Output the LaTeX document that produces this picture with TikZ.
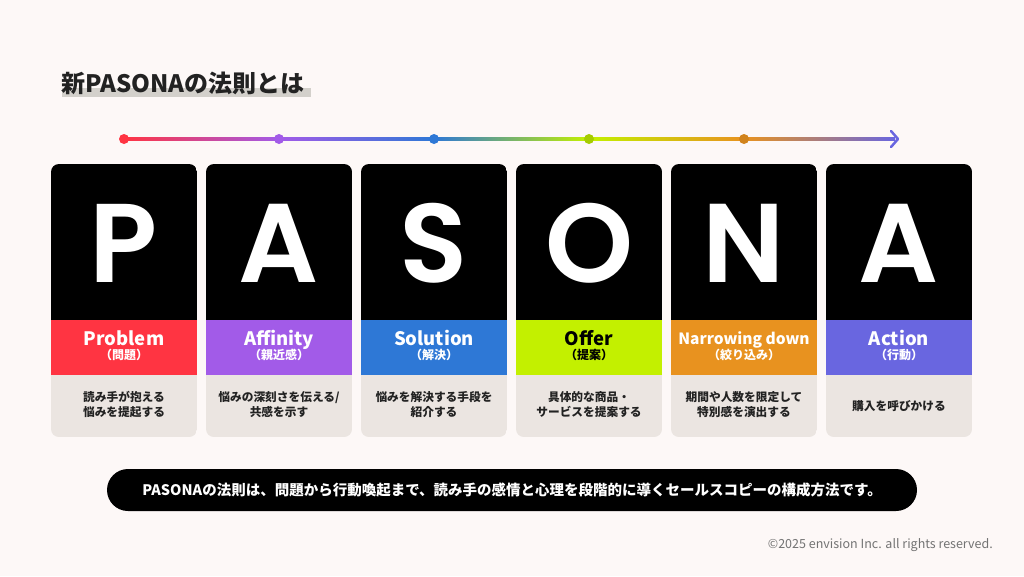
\documentclass[tikz,border=0pt]{standalone}
\usepackage{fontspec}
\setmainfont{Noto Sans CJK JP}
\newfontfamily\popfont{Poppins}[UprightFont=* SemiBold,BoldFont=* SemiBold]
\usetikzlibrary{arrows.meta}
\definecolor{bgc}{HTML}{FDF8F7}
\definecolor{cred}{HTML}{FF3442}
\definecolor{cpur}{HTML}{A25BE8}
\definecolor{cblu}{HTML}{2E78D6}
\definecolor{clim}{HTML}{C3F000}
\definecolor{cora}{HTML}{E8921F}
\definecolor{cind}{HTML}{6966E0}
\definecolor{cgray}{HTML}{EBE5E1}
\definecolor{hl}{HTML}{D3D0CB}
\definecolor{txt}{HTML}{222222}
\tikzset{
  bigletter/.style={text=white,font=\popfont\fontsize{112}{112}\selectfont,anchor=base,inner sep=0pt},
  lab/.style={font=\bfseries\fontsize{18.5}{18}\selectfont,anchor=base,inner sep=0pt},
  sublab/.style={font=\bfseries\fontsize{12}{12}\selectfont,inner sep=0pt},
  desc/.style={text=txt,font=\bfseries\fontsize{11.7}{15.5}\selectfont,align=center,inner sep=0pt},
  dot/.style={circle,inner sep=0pt,minimum size=10pt},
}
\begin{document}
\begin{tikzpicture}[x=1pt,y=-1pt]
\fill[bgc] (0,0) rectangle (1024,576);
\useasboundingbox (0,0) rectangle (1024,576);
% title
\fill[hl] (62,88) rectangle (311,97);
\node[anchor=base west,inner sep=0pt,text=txt,font=\bfseries\fontsize{24}{24}\selectfont] (title) at (61,92) {新PASONAの法則とは};
% timeline
\coordinate (t1) at (124,139);
\coordinate (t2) at (279,139);
\coordinate (t3) at (434,139);
\coordinate (t4) at (589,139);
\coordinate (t5) at (744,139);
\coordinate (t6) at (897,139);
\shade[left color=cred,right color=cpur] (124,137.5) rectangle (279,140.5);
\shade[left color=cpur,right color=cblu] (279,137.5) rectangle (434,140.5);
\shade[left color=cblu,right color=clim] (434,137.5) rectangle (589,140.5);
\shade[left color=clim,right color=cora] (589,137.5) rectangle (744,140.5);
\shade[left color=cora,right color=cind] (744,137.5) rectangle (895,140.5);
\draw[cind,line width=2.5pt,line cap=round,line join=round] (891,131) -- (898,139) -- (891,147);
\node[dot,fill=cred] (d1) at (t1) {};
\node[dot,fill=cpur] (d2) at (t2) {};
\node[dot,fill=cblu] (d3) at (t3) {};
\node[dot,fill=clim!85!black] (d4) at (t4) {};
\node[dot,fill=cora!90!black] (d5) at (t5) {};
% cards
\foreach \i/\L/\col/\tcol/\name/\sub in {
  0/P/cred/white/Problem/（問題）,
  1/A/cpur/white/Affinity/（親近感）,
  2/S/cblu/white/Solution/（解決）,
  3/O/clim/black/Offer/（提案）,
  4/N/cora/white/Narrowing down/（絞り込み）,
  5/A/cind/white/Action/（行動）}{
  \pgfmathsetmacro{\xa}{51+155*\i}
  \pgfmathsetmacro{\xb}{\xa+146}
  \pgfmathsetmacro{\xc}{\xa+73}
  \begin{scope}
    \clip[rounded corners=8pt] (\xa,164) rectangle (\xb,437);
    \fill[cgray] (\xa,164) rectangle (\xb,437);
    \fill[black] (\xa,164) rectangle (\xb,320);
    \fill[\col] (\xa,320) rectangle (\xb,375);
  \end{scope}
  \node[bigletter] (L\i) at (\xc,282) {\L};
  \ifnum\i=4
    \node[lab,text=\tcol,font=\bfseries\fontsize{15.5}{15}\selectfont] (n\i) at (\xc,344) {\name};
  \else
    \node[lab,text=\tcol] (n\i) at (\xc,345.5) {\name};
  \fi
  \node[sublab,text=\tcol] (s\i) at (\xc,355) {\sub};
}
\node[desc] (e0) at (124,404.5) {読み手が抱える\\悩みを提起する};
\node[desc] (e1) at (279,404.5) {悩みの深刻さを伝える/\\共感を示す};
\node[desc] (e2) at (434,404.5) {悩みを解決する手段を\\紹介する};
\node[desc] (e3) at (589,404.5) {具体的な商品・\\サービスを提案する};
\node[desc] (e4) at (744,404.5) {期間や人数を限定して\\特別感を演出する};
\node[desc] (e5) at (899,406) {購入を呼びかける};
% bottom pill
\fill[black,rounded corners=21pt] (107,469) rectangle (917,511);
\node[text=white,font=\bfseries\fontsize{14.5}{14.5}\selectfont,inner sep=0pt] (pill) at (512,490) {PASONAの法則は、問題から行動喚起まで、読み手の感情と心理を段階的に導くセールスコピーの構成方法です。};
% copyright
\node[anchor=east,text=black!55,font=\fontsize{12.5}{12.5}\selectfont,inner sep=0pt] (copy) at (993,545) {©2025 envision Inc. all rights reserved.};
\end{tikzpicture}
\end{document}
